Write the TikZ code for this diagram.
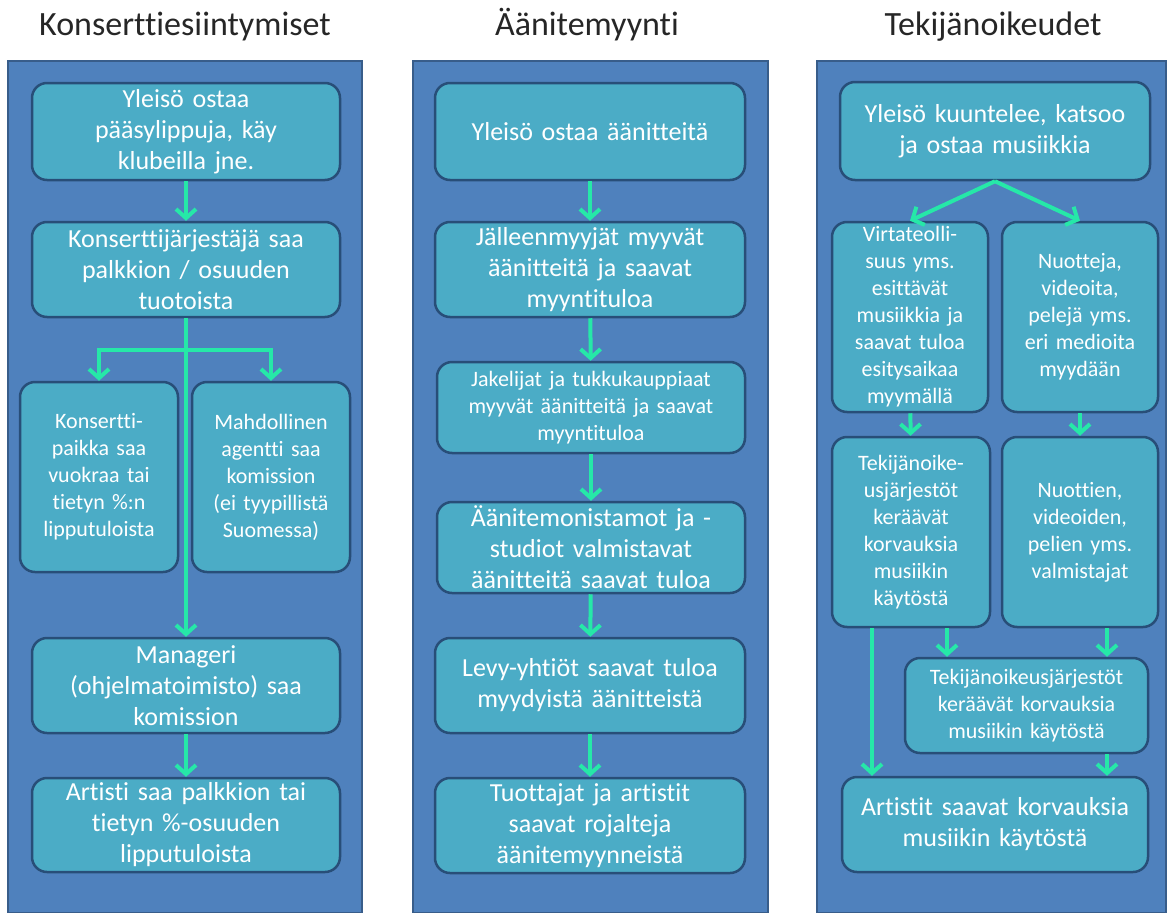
\documentclass[tikz,border=0pt]{standalone}
\usepackage{fontspec}
\setmainfont{Carlito}[Ligatures=CommonOff]
\usetikzlibrary{arrows.meta,calc}

\definecolor{panelblue}{RGB}{79,129,189}
\definecolor{paneledge}{RGB}{56,93,138}
\definecolor{boxaqua}{RGB}{75,172,198}
\definecolor{boxedge}{RGB}{40,78,120}
\definecolor{flowgreen}{RGB}{38,232,168}

\tikzset{
  panel/.style={draw=paneledge, fill=panelblue, line width=2pt, minimum width=#1, minimum height=852pt, inner sep=0pt, anchor=north},
  headline/.style={font=\fontsize{34}{40}\selectfont, text=black!85, anchor=base},
  box/.style={draw=boxedge, fill=boxaqua, line width=2.5pt, rounded corners=15pt, text=white, align=center, inner sep=0pt},
  bigtext/.style={font=\fontsize{26}{31}\selectfont},
  smalltext/.style={font=\fontsize{22}{27}\selectfont},
  wide/.style={minimum width=#1, text width=#1-10pt},
  flowarrow/.style={draw=flowgreen, line width=4pt, -{Straight Barb[length=9pt,width=20pt]}}
}

\begin{document}
\begin{tikzpicture}[x=1pt,y=-1pt]
\useasboundingbox (0,0) rectangle (1168,913);

% three columns
\node[panel=354pt] (pan1) at (185,60) {};
\node[panel=355pt] (pan2) at (590.5,60) {};
\node[panel=349pt] (pan3) at (991.5,60) {};
\node[headline] (t1) at (185,35) {Konserttiesiintymiset};
\node[headline] (t2) at (587,35) {Äänitemyynti};
\node[headline] (t3) at (993,35) {Tekijänoikeudet};

% Konserttiesiintymiset
\node[box, bigtext, wide=308pt, minimum height=97pt] (k1) at (186,131.5) {Yleisö ostaa\\ pääsylippuja, käy\\ klubeilla jne.};
\node[box, bigtext, wide=308pt, minimum height=95pt] (k2) at (186,269.5) {Konserttijärjestäjä saa\\ palkkion / osuuden\\ tuotoista};
\node[box, smalltext, wide=158pt, minimum height=190pt] (k3) at (99,477) {Konsertti-\\ paikka saa\\ vuokraa tai\\ tietyn \%:n\\ lipputuloista};
\node[box, smalltext, wide=158pt, minimum height=190pt] (k4) at (271,477) {Mahdollinen\\ agentti saa\\ komission\\ (ei tyypillistä\\ Suomessa)};
\node[box, bigtext, wide=308pt, minimum height=95pt] (k5) at (186,685.5) {Manageri\\ (ohjelmatoimisto) saa\\ komission};
\node[box, bigtext, wide=308pt, minimum height=94pt] (k6) at (186,825) {Artisti saa palkkion tai\\ tietyn \%-osuuden\\ lipputuloista};
\coordinate (split) at (186,350);

\draw[flowarrow] (k1) -- (k2);
\draw[flowarrow] (k2) -- (k5);
\draw[flowarrow] (split) -| (k3.north);
\draw[flowarrow] (split) -| (k4.north);
\draw[flowarrow] (k5) -- (k6);

% Äänitemyynti
\node[box, bigtext, wide=310pt, minimum height=97pt] (a1) at (590,131.5) {Yleisö ostaa äänitteitä};
\node[box, bigtext, wide=310pt, minimum height=95pt] (a2) at (590,269.5) {Jälleenmyyjät myyvät\\ äänitteitä ja saavat\\ myyntituloa};
\node[box, smalltext, wide=308pt, minimum height=91pt] (a3) at (591,407.5) {Jakelijat ja tukkukauppiaat\\ myyvät äänitteitä ja saavat\\ myyntituloa};
\node[box, bigtext, wide=308pt, minimum height=91pt] (a4) at (591,547.5) {Äänitemonistamot ja -\\ studiot valmistavat\\ äänitteitä saavat tuloa};
\node[box, bigtext, wide=310pt, minimum height=95pt] (a5) at (590,685.5) {Levy-yhtiöt saavat tuloa\\ myydyistä äänitteistä};
\node[box, bigtext, wide=310pt, minimum height=95pt] (a6) at (590,825.5) {Tuottajat ja artistit\\ saavat rojalteja\\ äänitemyynneistä};

\foreach \i/\j in {a1/a2,a2/a3,a3/a4,a4/a5,a5/a6}
  \draw[flowarrow] (\i) -- (\j);

% Tekijänoikeudet
\node[box, bigtext, wide=310pt, minimum height=98pt] (c1) at (995,131) {Yleisö kuuntelee, katsoo\\ ja ostaa musiikkia};
\node[box, smalltext, wide=156pt, minimum height=190pt] (c2) at (910,317) {Virtateolli-\\ suus yms.\\ esittävät\\ musiikkia ja\\ saavat tuloa\\ esitysaikaa\\ myymällä};
\node[box, smalltext, wide=156pt, minimum height=190pt] (c3) at (1080,317) {Nuotteja,\\ videoita,\\ pelejä yms.\\ eri medioita\\ myydään};
\node[box, smalltext, wide=158pt, minimum height=190pt] (c4) at (911,532) {Tekijänoike-\\ usjärjestöt\\ keräävät\\ korvauksia\\ musiikin\\ käytöstä};
\node[box, smalltext, wide=156pt, minimum height=190pt] (c5) at (1080,532) {Nuottien,\\ videoiden,\\ pelien yms.\\ valmistajat};
\node[box, smalltext, wide=243pt, minimum height=95pt] (c6) at (1026.5,705.5) {Tekijänoikeusjärjestöt\\ keräävät korvauksia\\ musiikin käytöstä};
\node[box, bigtext, wide=306pt, minimum height=95pt] (c7) at (995,824.5) {Artistit saavat korvauksia\\ musiikin käytöstä};

\draw[flowarrow] (c1.south) -- (c2.north);
\draw[flowarrow] (c1.south) -- (c3.north);
\draw[flowarrow] (c2) -- (c4);
\draw[flowarrow] (c3) -- (c5);
\draw[flowarrow] ([xshift=36pt]c4.south) -- ([xshift=36pt]c4.south |- c6.north);
\draw[flowarrow] ([xshift=27pt]c5.south) -- ([xshift=27pt]c5.south |- c6.north);
\draw[flowarrow] ([xshift=27pt]c5.south |- c6.south) -- ([xshift=27pt]c5.south |- c7.north);
\draw[flowarrow] ([xshift=-39pt]c4.south) -- ([xshift=-39pt]c4.south |- c7.north);
\end{tikzpicture}
\end{document}
